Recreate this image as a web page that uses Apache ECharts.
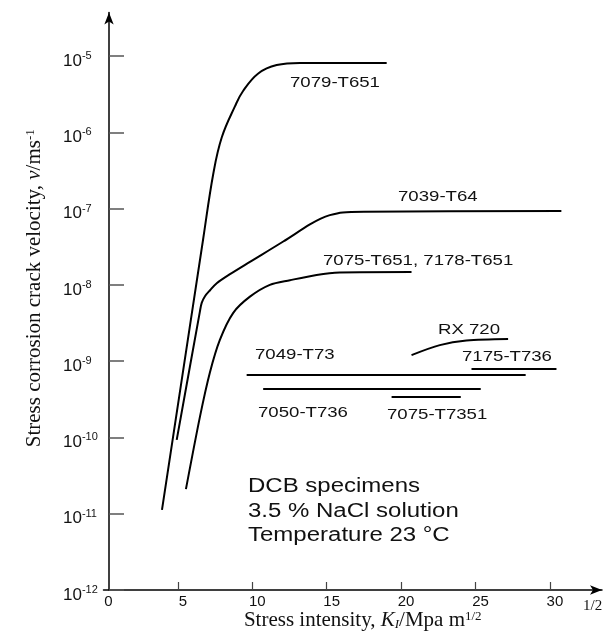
<!DOCTYPE html>
<html><head><meta charset="utf-8">
<script src="https://cdn.jsdelivr.net/npm/echarts@6/dist/echarts.min.js"></script>
<style>html,body{margin:0;padding:0;background:#fff}#c{width:614px;height:634px}</style>
</head><body><div id="c"></div>
<script>
// Stress intensity K (MPa m^1/2) and crack velocity v (m/s)
const k7079 = [3.93, 6.69, 7.39, 7.95, 8.84, 9.39, 10.40, 11.64, 13.2, 19.03];
const v7079 = [1.12e-11, 3.9e-8, 2.95e-7, 8.6e-7, 2.2e-6, 3.5e-6, 5.9e-6, 7.6e-6, 8.1e-6, 8.1e-6];

const k7039 = [4.92, 6.48, 6.60, 6.82, 7.16, 7.61, 8.50, 9.84, 12.08, 13.87, 14.6, 15.21, 16.08, 17.5, 30.77];
const v7039 = [9.3e-11, 4.5e-9, 5.8e-9, 7.1e-9, 8.5e-9, 1.05e-8, 1.38e-8, 2.0e-8, 3.7e-8, 6.2e-8, 7.4e-8, 8.2e-8, 8.9e-8, 9.1e-8, 9.3e-8];

const k7075 = [5.54, 6.48, 7.15, 7.82, 8.72, 9.84, 11.18, 12.53, 14.32, 15.88, 20.70];
const v7075 = [2.1e-11, 1.86e-10, 7.1e-10, 1.9e-9, 4.3e-9, 7.0e-9, 1.0e-8, 1.15e-8, 1.35e-8, 1.45e-8, 1.47e-8];

const kRX = [20.70, 22.6, 24.39, 27.19];
const vRX = [1.2e-9, 1.62e-9, 1.86e-9, 1.95e-9];

const k7175 = [24.73, 30.44];
const v7175 = [7.9e-10, 7.9e-10];

const k7049 = [9.62, 28.37];
const v7049 = [6.6e-10, 6.6e-10];

const k7050 = [10.73, 25.35];
const v7050 = [4.3e-10, 4.3e-10];

const k7351 = [19.36, 24.01];
const v7351 = [3.4e-10, 3.4e-10];

const names = ['7079-T651', '7039-T64', '7075-T651, 7178-T651', 'RX 720', '7175-T736', '7049-T73', '7050-T736', '7075-T7351'];
const noteLines = ['DCB specimens', '3.5 % NaCl solution', 'Temperature 23 °C'];

const xTickValues = [5, 10, 15, 20, 25, 30];
const xLabelValues = [0, 5, 10, 15, 20, 25, 30];
const yTickValues = [1e-12, 1e-11, 1e-10, 1e-9, 1e-8, 1e-7, 1e-6, 1e-5];

const seriesDefs = [
  [k7079, v7079, 0.4], [k7039, v7039, 0.3], [k7075, v7075, 0.3], [kRX, vRX, 0.3],
  [k7175, v7175, false], [k7049, v7049, false], [k7050, v7050, false], [k7351, v7351, false]
];

const SANS = 'Liberation Sans, Arial, sans-serif';
const SERIF = 'Liberation Serif, Times New Roman, serif';

// label placement (pixels)
const labelPos = [[290, 83], [398, 197], [323, 261], [438, 330], [462, 357], [255, 355], [258, 413], [387, 415]];
const notePos = [[248, 486], [248, 511], [248, 535]];

const graphics = [];
names.forEach((n, i) => graphics.push({
  type: 'text', x: labelPos[i][0], y: labelPos[i][1], scaleX: 1.24,
  style: { text: n, fontSize: 15, fontFamily: SANS, fill: '#111', verticalAlign: 'middle' }
}));
noteLines.forEach((n, i) => graphics.push({
  type: 'text', x: notePos[i][0], y: notePos[i][1], scaleX: 1.2,
  style: { text: n, fontSize: 20, fontFamily: SANS, fill: '#111', verticalAlign: 'middle' }
}));
graphics.push({
  type: 'text', x: 583, y: 606,
  style: { text: '1/2', fontSize: 15, fontFamily: SERIF, fill: '#111', verticalAlign: 'middle' }
});

const chart = echarts.init(document.getElementById('c'), null, { renderer: 'canvas' });
chart.setOption({
  backgroundColor: '#fff',
  animation: false,
  grid: { left: 103.5, right: 12, top: 12.5, bottom: 44, outerBoundsMode: 'none', containLabel: false },
  xAxis: {
    type: 'value', min: 0, max: 33.5,
    axisLine: { show: true, symbol: ['none', 'arrow'], symbolSize: [7, 12], lineStyle: { color: '#000', width: 1.5 } },
    axisTick: { show: true, inside: true, length: 8, customValues: xTickValues, lineStyle: { color: '#444', width: 1.2 } },
    axisLabel: { customValues: xLabelValues, fontSize: 15, fontFamily: SANS, color: '#111', margin: 4, padding: [0, 0, 0, 10] },
    splitLine: { show: false },
    name: 'Stress intensity, {i|K}{sub|I}/Mpa m{sup|1/2}',
    nameLocation: 'middle', nameGap: 20, nameMoveOverlap: false,
    nameTextStyle: {
      fontFamily: SERIF, fontSize: 21, color: '#111', padding: [0, 0, 0, 20],
      rich: {
        i: { fontFamily: SERIF, fontSize: 21, fontStyle: 'italic', color: '#111' },
        sub: { fontFamily: SERIF, fontSize: 13, fontStyle: 'italic', color: '#111', verticalAlign: 'bottom', padding: [8, 0, 0, 0] },
        sup: { fontFamily: SERIF, fontSize: 13, color: '#111', verticalAlign: 'top', padding: [0, 0, 8, 0] }
      }
    }
  },
  yAxis: {
    type: 'log', logBase: 10, min: 1e-12, max: Math.pow(10, -4.43), offset: -5.5,
    axisLine: { show: true, symbol: ['none', 'arrow'], symbolSize: [7, 12], lineStyle: { color: '#000', width: 1.5 } },
    axisTick: { show: true, inside: true, length: 15, customValues: yTickValues, lineStyle: { color: '#555', width: 1.5 } },
    axisLabel: {
      customValues: yTickValues, align: 'left', margin: 46,
      formatter: v => '{b|10}{s|' + Math.round(Math.log10(v)) + '}',
      rich: {
        b: { fontFamily: SANS, fontSize: 17, color: '#111', lineHeight: 17, padding: [10, 0, 0, 0] },
        s: { fontFamily: SANS, fontSize: 11, color: '#111', lineHeight: 11, verticalAlign: 'top', padding: [3, 0, 0, 0] }
      }
    },
    splitLine: { show: false },
    name: 'Stress corrosion crack velocity, {i|v}/ms{sup|-1}',
    nameLocation: 'middle', nameRotate: 90, nameGap: 64, nameMoveOverlap: false,
    nameTextStyle: {
      fontFamily: SERIF, fontSize: 21, color: '#111', padding: [0, 0, 0, 26],
      rich: {
        i: { fontFamily: SERIF, fontSize: 21, fontStyle: 'italic', color: '#111' },
        sup: { fontFamily: SERIF, fontSize: 13, color: '#111', verticalAlign: 'top', padding: [0, 0, 8, 0] }
      }
    }
  },
  series: seriesDefs.map((d, i) => ({
    type: 'line', name: names[i],
    data: d[0].map((x, j) => [x, d[1][j]]),
    showSymbol: false, smooth: d[2],
    lineStyle: { color: '#000', width: 2 },
    silent: true
  })),
  graphic: graphics
});
</script>
</body></html>
